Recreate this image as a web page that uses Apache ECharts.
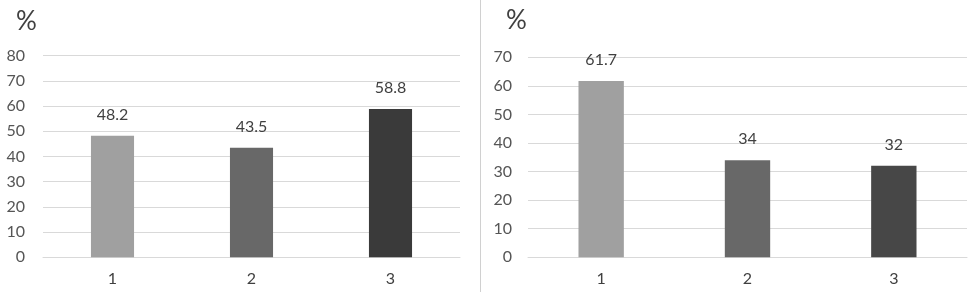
<!DOCTYPE html>
<html>
<head>
<meta charset="utf-8">
<script src="https://cdn.jsdelivr.net/npm/echarts@6/dist/echarts.min.js"></script>
<style>html,body{margin:0;padding:0;background:#fff;}#c{width:975px;height:292px;}</style>
</head>
<body>
<div id="c"></div>
<script>
const categories = ['1', '2', '3'];
const leftValues = [48.2, 43.5, 58.8];
const rightValues = [61.7, 34, 32];
const barColors = ['#a0a0a0', '#686868', '#3a3a3a'];
const barColorsRight = ['#a0a0a0', '#686868', '#474747'];
const unitLabel = '%';

const FONT = 'Lato';
const chart = echarts.init(document.getElementById('c'), null, {renderer: 'canvas'});

function mkData(vals, cols) {
  return vals.map((v, i) => ({value: v, itemStyle: {color: cols[i]}}));
}
const axisLabelY = {color: '#555555', fontSize: 16, fontFamily: FONT};
const axisLabelX = {color: '#404040', fontSize: 16, fontFamily: FONT, margin: 14};

chart.setOption({
  animation: false,
  backgroundColor: '#fff',
  title: [
    {text: unitLabel, left: 11, top: 4, textStyle: {fontSize: 26, fontWeight: 'normal', color: '#404040', fontFamily: FONT}},
    {text: unitLabel, left: 501, top: 3, textStyle: {fontSize: 26, fontWeight: 'normal', color: '#404040', fontFamily: FONT}}
  ],
  graphic: [{
    type: 'line', shape: {x1: 480.5, y1: 0, x2: 480.5, y2: 292},
    style: {stroke: '#d0d0d0', lineWidth: 1}
  }],
  grid: [
    {left: 43, right: 515, top: 55.7, bottom: 34.7},
    {left: 528, right: 8, top: 57.3, bottom: 34.7}
  ],
  xAxis: [
    {type: 'category', gridIndex: 0, data: categories, axisTick: {show: false},
     axisLine: {lineStyle: {color: '#d9d9d9'}}, axisLabel: axisLabelX},
    {type: 'category', gridIndex: 1, data: categories, axisTick: {show: false},
     axisLine: {lineStyle: {color: '#d9d9d9'}}, axisLabel: axisLabelX}
  ],
  yAxis: [
    {type: 'value', gridIndex: 0, min: 0, max: 80, interval: 10,
     axisLine: {show: false}, axisTick: {show: false},
     axisLabel: Object.assign({margin: 18}, axisLabelY),
     splitLine: {lineStyle: {color: '#d9d9d9', width: 1}}},
    {type: 'value', gridIndex: 1, min: 0, max: 70, interval: 10,
     axisLine: {show: false}, axisTick: {show: false},
     axisLabel: Object.assign({margin: 16}, axisLabelY),
     splitLine: {lineStyle: {color: '#d9d9d9', width: 1}}}
  ],
  series: [
    {type: 'bar', xAxisIndex: 0, yAxisIndex: 0, barWidth: '31%',
     data: mkData(leftValues, barColors),
     label: {show: true, position: 'top', distance: 13, color: '#404040', fontSize: 16, fontFamily: FONT}},
    {type: 'bar', xAxisIndex: 1, yAxisIndex: 1, barWidth: '31%',
     data: mkData(rightValues, barColorsRight),
     label: {show: true, position: 'top', distance: 13, color: '#404040', fontSize: 16, fontFamily: FONT}}
  ]
});
</script>
</body>
</html>
